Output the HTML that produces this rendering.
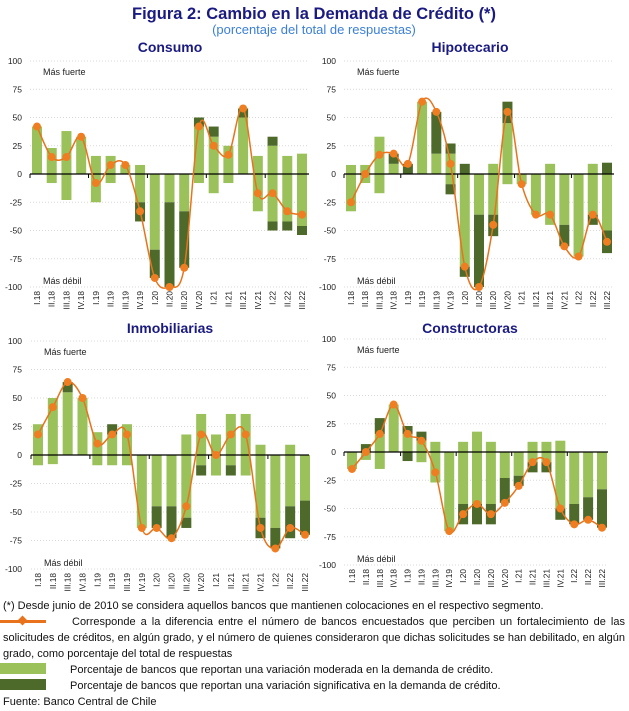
<!DOCTYPE html>
<html><head><meta charset="utf-8"><style>
body{margin:0;background:#fff;width:629px;height:711px;overflow:hidden;font-family:"Liberation Sans",sans-serif}
.ft{position:absolute;left:3px;font-size:11px;color:#111;letter-spacing:0px;line-height:16px}
</style></head><body>
<svg id="chart" width="629" height="711" style="position:absolute;left:0;top:0" font-family="Liberation Sans, sans-serif">
<text x="314" y="19" text-anchor="middle" font-size="16.5" font-weight="bold" fill="#1a1a80">Figura 2: Cambio en la Demanda de Crédito (*)</text>
<text x="314" y="34" text-anchor="middle" font-size="13" fill="#3b7fd6">(porcentaje del total de respuestas)</text>
<g id="panels"></g>
</svg>
<div class="ft" style="top:598px">(*) Desde junio de 2010 se considera aquellos bancos que mantienen colocaciones en el respectivo segmento.</div>
<div style="position:absolute;left:0;top:620px;width:46px;height:3px;background:#e8731c"></div>
<div style="position:absolute;left:19px;top:617px;width:7px;height:7px;background:#e8731c;transform:rotate(45deg)"></div>
<div class="ft" style="top:614px;width:622px;text-align:justify;text-align-last:left;text-indent:69px">Corresponde a la diferencia entre el número de bancos encuestados que perciben un fortalecimiento de las solicitudes de créditos, en algún grado, y el número de quienes consideraron que dichas solicitudes se han debilitado, en algún grado, como porcentaje del total de respuestas</div>
<div style="position:absolute;left:0;top:663px;width:46px;height:11px;background:#9bc15a"></div>
<div class="ft" style="left:70px;top:662px">Porcentaje de bancos que reportan una variación moderada en la demanda de crédito.</div>
<div style="position:absolute;left:0;top:679px;width:46px;height:11px;background:#4e6a2a"></div>
<div class="ft" style="left:70px;top:678px">Porcentaje de bancos que reportan una variación significativa en la demanda de crédito.</div>
<div class="ft" style="top:694px">Fuente: Banco Central de Chile</div>
<script>
const categories=["I.18","II.18","III.18","IV.18","I.19","II.19","III.19","IV.19","I.20","II.20","III.20","IV.20","I.21","II.21","III.21","IV.21","I.22","II.22","III.22"];
const yTicks=[100,75,50,25,0,-25,-50,-75,-100];
// Consumo
const consPosMod=[42,23,38,33,16,16,8,8,0,0,0,42,33,25,50,16,25,16,18];
const consPosSig=[0,0,0,0,0,0,0,0,0,0,0,8,9,0,8,0,8,0,0];
const consNegMod=[0,8,23,0,25,8,0,25,67,25,33,8,17,8,0,33,42,42,46];
const consNegSig=[0,0,0,0,0,0,0,17,25,75,50,0,0,0,0,0,8,8,8];
const consNet=[42,15,15,33,-8,8,8,-33,-92,-100,-83,42,25,17,58,-17,-17,-33,-36];
// Hipotecario
const hipoPosMod=[8,8,33,9,0,64,18,18,0,0,9,45,0,0,9,0,0,9,0];
const hipoPosSig=[0,0,0,9,9,0,37,9,9,0,0,19,0,0,0,0,0,0,10];
const hipoNegMod=[33,8,17,0,0,0,0,9,82,36,36,9,9,36,45,45,73,36,50];
const hipoNegSig=[0,0,0,0,0,0,0,9,9,64,19,0,0,0,0,19,0,9,20];
const hipoNet=[-25,0,17,18,9,64,55,9,-82,-100,-45,55,-9,-36,-36,-64,-73,-36,-60];
// Inmobiliarias
const inmoPosMod=[27,50,55,50,20,18,27,0,0,0,18,36,18,36,36,9,0,9,0];
const inmoPosSig=[0,0,9,0,0,9,0,0,0,0,0,0,0,0,0,0,0,0,0];
const inmoNegMod=[9,8,0,0,9,9,9,64,45,45,55,9,18,9,18,55,64,45,40];
const inmoNegSig=[0,0,0,0,0,0,0,0,19,28,9,9,0,9,0,18,18,28,30];
const inmoNet=[18,42,64,50,10,18,18,-64,-64,-73,-45,18,0,18,18,-64,-82,-64,-70];
// Constructoras
const consrPosMod=[0,0,16,42,16,10,9,0,9,18,9,0,0,9,9,10,0,0,0];
const consrPosSig=[0,7,14,0,7,8,0,0,0,0,0,0,0,0,0,0,0,0,0];
const consrNegMod=[15,7,15,0,0,9,27,70,46,46,46,23,21,9,9,50,46,40,33];
const consrNegSig=[0,0,0,0,8,0,0,0,18,18,18,22,9,9,9,10,18,20,34];
const consrNet=[-15,0,16,42,16,10,-18,-70,-55,-46,-55,-45,-30,-9,-9,-50,-64,-60,-67];

const panels=[
 {key:"consumo",title:"Consumo",tx:170,ty:52,c0:37,c1:302,zero:174,k:1.13,ax0:30,ax1:309,lx:22,pm:consPosMod,ps:consPosSig,nm:consNegMod,ns:consNegSig,net:consNet},
 {key:"hipotecario",title:"Hipotecario",tx:470,ty:52,c0:351,c1:607,zero:174,k:1.13,ax0:344,ax1:614,lx:336,pm:hipoPosMod,ps:hipoPosSig,nm:hipoNegMod,ns:hipoNegSig,net:hipoNet},
 {key:"inmobiliarias",title:"Inmobiliarias",tx:170,ty:333,c0:38,c1:305,zero:455,k:1.14,ax0:31,ax1:309,lx:22,pm:inmoPosMod,ps:inmoPosSig,nm:inmoNegMod,ns:inmoNegSig,net:inmoNet},
 {key:"constructoras",title:"Constructoras",tx:470,ty:333,c0:352,c1:602,zero:452,k:1.13,ax0:344,ax1:608,lx:336,pm:consrPosMod,ps:consrPosSig,nm:consrNegMod,ns:consrNegSig,net:consrNet}
];
const NS="http://www.w3.org/2000/svg";
const root=document.getElementById("panels");
function mk(tag,attrs,parent){const e=document.createElementNS(NS,tag);for(const a in attrs)e.setAttribute(a,attrs[a]);parent.appendChild(e);return e;}
panels.forEach(p=>{
 const g=mk("g",{},root);
 
 
 const X=i=>p.c0+(p.c1-p.c0)*i/(categories.length-1);
 const Y=v=>p.zero-v*p.k;
 const bw=10;
 const t=mk("text",{x:p.tx,y:p.ty,"text-anchor":"middle","font-size":"14","font-weight":"bold",fill:"#1a1a80"},g);
 t.textContent=p.title;
 
 
 yTicks.forEach(v=>{
  if(v!==0){const gl=mk("line",{x1:p.ax0,x2:p.ax1,y1:Y(v),y2:Y(v),stroke:"#d8d8d8","stroke-dasharray":"1,2","stroke-width":"1"},g);
   
   }
  const lt=mk("text",{x:p.lx,y:Y(v)+3,"text-anchor":"end","font-size":"8.5",fill:"#222"},g);
  lt.textContent=v;
  
  
 });
 const mf=mk("text",{x:p.ax0+13,y:Y(100)+14,"font-size":"9",fill:"#222"},g);mf.textContent="Más fuerte";
 
 
 const md=mk("text",{x:p.ax0+13,y:Y(-100)-3,"font-size":"9",fill:"#222"},g);md.textContent="Más débil";
 
 
 categories.forEach((c,i)=>{
  const x=X(i);
  const segs=[[0,p.pm[i],"#9bc15a"],[p.pm[i],p.pm[i]+p.ps[i],"#4e6a2a"],[0,-p.nm[i],"#9bc15a"],[-p.nm[i],-p.nm[i]-p.ns[i],"#4e6a2a"]];
  segs.forEach((s,j)=>{
   if(s[0]===s[1])return;
   const y1=Math.min(Y(s[0]),Y(s[1])),h=Math.abs(Y(s[0])-Y(s[1]));
   const r=mk("rect",{x:x-bw/2,y:y1,width:bw,height:h,fill:s[2]},g);
   
   
  });
  const xl=mk("text",{transform:`translate(${x+3},${Y(-100)+4}) rotate(-90)`,"text-anchor":"end","font-size":"8.3",fill:"#222"},g);
  xl.textContent=c;
  
  
 });
 const ax=mk("line",{x1:p.ax0,x2:p.ax1,y1:p.zero,y2:p.zero,stroke:"#000","stroke-width":"1.3"},g);
 
 
 [0,4,8,12,16].forEach(i=>{
  const xx=i===0?p.ax0:(X(i-1)+X(i))/2;
  const tk=mk("line",{x1:xx,x2:xx,y1:p.zero,y2:p.zero+4,stroke:"#000"},g);
  
  
 });
 const pts=p.net.map((v,i)=>[X(i),Y(v)]);
 let d=`M${pts[0][0]},${pts[0][1]}`;
 for(let i=0;i<pts.length-1;i++){
  const p0=pts[Math.max(0,i-1)],p1=pts[i],p2=pts[i+1],p3=pts[Math.min(pts.length-1,i+2)];
  const s=6;
  d+=` C${p1[0]+(p2[0]-p0[0])/s},${p1[1]+(p2[1]-p0[1])/s} ${p2[0]-(p3[0]-p1[0])/s},${p2[1]-(p3[1]-p1[1])/s} ${p2[0]},${p2[1]}`;
 }
 const ln=mk("path",{d:d,fill:"none",stroke:"#e8731c","stroke-width":"1.5"},g);
 
 
 pts.forEach((q,i)=>{
  const m=mk("circle",{cx:q[0],cy:q[1],r:4,fill:"#ef7d22"},g);
  
  
 });
});
</script>
</body></html>
